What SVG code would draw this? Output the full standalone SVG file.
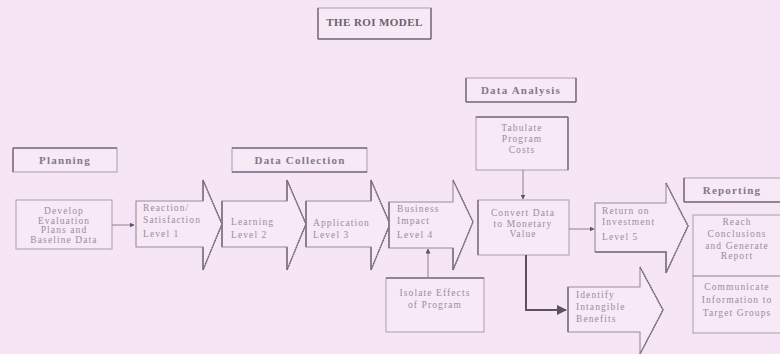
<svg xmlns="http://www.w3.org/2000/svg" width="780" height="354" viewBox="0 0 780 354">
  <defs>
    <marker id="head" viewBox="0 0 10 10" refX="9" refY="5" markerWidth="5" markerHeight="5" orient="auto">
      <path d="M0,0 L10,5 L0,10 Z" fill="#5e525e"/>
    </marker>
    <style>
      .bg { fill: #f6e5f5; }
      .box { fill: #f7e9f6; stroke: #ab9dab; stroke-width: 1; }
      .edge { stroke: #7d707d; stroke-width: 1.5; fill: none; }
      .arrowblk { fill: #f7e9f6; stroke: #998b99; stroke-width: 1.1; }
      .slant { stroke: #726572; stroke-width: 1.4; stroke-dasharray: 1.5 1; fill: none; }
      .title { font-family: "Liberation Serif", "Times New Roman", serif; font-size: 11px; font-weight: bold; fill: #6c5f6e; letter-spacing: 0.4px; }
      .head { font-family: "Liberation Serif", "Times New Roman", serif; font-size: 11px; font-weight: bold; fill: #857888; letter-spacing: 1.2px; }
      .t { font-family: "Liberation Serif", "Times New Roman", serif; font-size: 9.5px; fill: #9a8d9e; letter-spacing: 1.1px; }
      .line { stroke: #8d808d; stroke-width: 1; fill: none; }
      .thick { stroke: #5e525e; stroke-width: 2; fill: none; }
    </style>
  </defs>

  <rect class="bg" x="0" y="0" width="780" height="354"/>

  <!-- heading -->
  <g id="title">
    <rect class="box" x="318" y="8" width="113" height="31"/>
    <path class="edge" d="M318,8 V39 M431,8 V39 M318,39 H431"/>
    <text class="title" x="374.5" y="26" text-anchor="middle">THE ROI MODEL</text>
  </g>

  <!-- stage labels -->
  <g id="planning">
    <rect class="box" x="13" y="148" width="104" height="24"/>
    <path class="edge" d="M13,148 V172 M13,148 H117"/>
    <text class="head" x="65" y="164" text-anchor="middle">Planning</text>
  </g>
  <g id="data-collection">
    <rect class="box" x="232" y="148" width="135" height="24"/>
    <path class="edge" d="M232,148 H367 M232,172 H367"/>
    <text class="head" x="300" y="164" text-anchor="middle">Data Collection</text>
  </g>
  <g id="data-analysis">
    <rect class="box" x="466" y="78" width="110" height="24"/>
    <path class="edge" d="M466,78 V102 M576,78 V102 M466,102 H576"/>
    <text class="head" x="521" y="94" text-anchor="middle" font-size="10">Data Analysis</text>
  </g>
  <g id="reporting">
    <rect class="box" x="684" y="178" width="100" height="24"/>
    <path class="edge" d="M684,178 V202 M684,202 H780"/>
    <text class="head" x="732" y="194" text-anchor="middle">Reporting</text>
  </g>

  <!-- planning step -->
  <g id="develop-plans">
    <rect class="box" x="16" y="200" width="96" height="49"/>
    <text class="t" x="64" y="214" text-anchor="middle">Develop</text>
    <text class="t" x="64" y="223.5" text-anchor="middle">Evaluation</text>
    <text class="t" x="64" y="233" text-anchor="middle">Plans and</text>
    <text class="t" x="64" y="242.5" text-anchor="middle">Baseline Data</text>
  </g>

  <!-- level block arrows -->
  <g id="level1">
    <path class="arrowblk" d="M136,201 H203 V180 L222,224 L203,270 V247 H136 Z"/>
    <path class="slant" d="M203,180 L222,224 L203,270"/>
    <path class="edge" d="M203,180 V201 M203,247 V270"/>
    <text class="t" x="143" y="211">Reaction/</text>
    <text class="t" x="143" y="223">Satisfaction</text>
    <text class="t" x="143" y="237">Level 1</text>
  </g>
  <g id="level2">
    <path class="arrowblk" d="M222,201 H287 V180 L306,224 L287,270 V247 H222 Z"/>
    <path class="slant" d="M287,180 L306,224 L287,270"/>
    <path class="edge" d="M222,201 V247 M287,180 V201 M287,247 V270"/>
    <text class="t" x="231" y="225">Learning</text>
    <text class="t" x="231" y="238">Level 2</text>
  </g>
  <g id="level3">
    <path class="arrowblk" d="M306,201 H371 V180 L390,224 L371,270 V247 H306 Z"/>
    <path class="slant" d="M371,180 L390,224 L371,270"/>
    <path class="edge" d="M306,201 V247 M371,180 V201 M371,247 V270"/>
    <text class="t" x="313" y="226">Application</text>
    <text class="t" x="313" y="238">Level 3</text>
  </g>
  <g id="level4">
    <path class="arrowblk" d="M389,202 H453 V180 L473,222 L453,270 V248 H389 Z"/>
    <path class="slant" d="M453,180 L473,222 L453,270"/>
    <path class="edge" d="M389,202 V248 M453,248 V270"/>
    <text class="t" x="397" y="212">Business</text>
    <text class="t" x="397" y="224">Impact</text>
    <text class="t" x="397" y="238">Level 4</text>
  </g>

  <g id="isolate-effects">
    <rect class="box" x="386" y="278" width="98" height="54"/>
    <path class="edge" d="M386,278 H484"/>
    <text class="t" x="435" y="296" text-anchor="middle">Isolate Effects</text>
    <text class="t" x="435" y="308" text-anchor="middle">of Program</text>
  </g>

  <!-- analysis -->
  <g id="tabulate-costs">
    <rect class="box" x="476" y="117" width="92" height="53"/>
    <path class="edge" d="M568,117 V170 M476,117 H568"/>
    <text class="t" x="522" y="131" text-anchor="middle">Tabulate</text>
    <text class="t" x="522" y="142" text-anchor="middle">Program</text>
    <text class="t" x="522" y="153" text-anchor="middle">Costs</text>
  </g>
  <g id="convert-data">
    <rect class="box" x="478" y="200" width="91" height="55"/>
    <path class="edge" d="M478,200 V255"/>
    <text class="t" x="523" y="216" text-anchor="middle">Convert Data</text>
    <text class="t" x="523" y="226.5" text-anchor="middle">to Monetary</text>
    <text class="t" x="523" y="237" text-anchor="middle">Value</text>
  </g>
  <g id="level5">
    <path class="arrowblk" d="M595,203 H666 V183 L688,226 L666,273 V252 H595 Z"/>
    <path class="slant" d="M666,183 L688,226 L666,273"/>
    <path class="edge" d="M595,252 H666 V273"/>
    <text class="t" x="602" y="214">Return on</text>
    <text class="t" x="602" y="225">Investment</text>
    <text class="t" x="602" y="240">Level 5</text>
  </g>
  <g id="intangibles">
    <path class="arrowblk" d="M568,287 H640 V267 L663,310 L640,354 V332 H568 Z"/>
    <path class="slant" d="M640,267 L663,310 L640,354"/>
    <path class="edge" d="M568,287 V332"/>
    <text class="t" x="576" y="298">Identify</text>
    <text class="t" x="576" y="310">Intangible</text>
    <text class="t" x="576" y="322">Benefits</text>
  </g>

  <!-- reporting -->
  <g id="report-panel">
    <rect class="box" x="693" y="215" width="92" height="118"/>
    <line class="line" x1="693" y1="276" x2="780" y2="276"/>
    <text class="t" x="737" y="225" text-anchor="middle">Reach</text>
    <text class="t" x="737" y="237" text-anchor="middle">Conclusions</text>
    <text class="t" x="737" y="249" text-anchor="middle">and Generate</text>
    <text class="t" x="737" y="259" text-anchor="middle">Report</text>
    <text class="t" x="737" y="290" text-anchor="middle">Communicate</text>
    <text class="t" x="737" y="303" text-anchor="middle">Information to</text>
    <text class="t" x="737" y="316" text-anchor="middle">Target Groups</text>
  </g>

  <!-- connectors -->
  <g id="connectors">
    <line class="line" x1="112" y1="225" x2="134" y2="225" marker-end="url(#head)"/>
    <line class="line" x1="523" y1="170" x2="523" y2="199" marker-end="url(#head)"/>
    <line class="line" x1="569" y1="229" x2="594" y2="229" marker-end="url(#head)"/>
    <line class="line" x1="428" y1="278" x2="428" y2="249" marker-end="url(#head)"/>
    <path class="thick" d="M526,255 V310 H566" marker-end="url(#head)"/>
  </g>
</svg>
